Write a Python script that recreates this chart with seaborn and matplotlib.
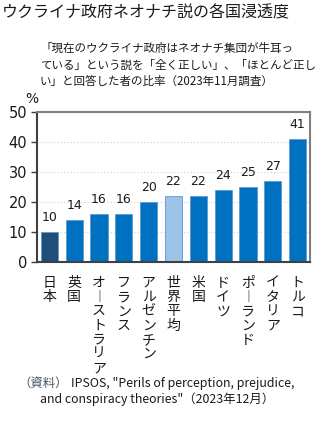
import matplotlib
matplotlib.use("Agg")
import matplotlib.pyplot as plt
import seaborn as sns
import pandas as pd

# Share of respondents who said the claim is "completely" or "mostly" true (Nov 2023)
countries = ["日本", "英国", "オーストラリア", "フランス", "アルゼンチン", "世界平均",
             "米国", "ドイツ", "ポーランド", "イタリア", "トルコ"]
values = [10, 14, 16, 16, 20, 22, 22, 24, 25, 27, 41]
yticks = [0, 10, 20, 30, 40, 50]

title = "ウクライナ政府ネオナチ説の各国浸透度"
subtitle = ("「現在のウクライナ政府はネオナチ集団が牛耳っ\n"
            "ている」という説を「全く正しい」、「ほとんど正し\n"
            "い」と回答した者の比率（2023年11月調査）")

BASE = "#0070C0"
HIGHLIGHT = {"日本": "#1F4E79", "世界平均": "#9DC3E6"}
colors = [HIGHLIGHT.get(c, BASE) for c in countries]

sns.set_theme(style="white")
plt.rcParams["font.family"] = ["Noto Sans CJK JP", "DejaVu Sans"]

df = pd.DataFrame({"country": countries, "value": values})

fig = plt.figure(figsize=(3.26, 4.44), dpi=100)
ax = fig.add_axes([37 / 326, 1 - 262 / 444, (310 - 37) / 326, (262 - 112) / 444])

sns.barplot(data=df, x="country", y="value", hue="country", palette=colors,
            legend=False, width=0.69, ax=ax, saturation=1,
            edgecolor="#5B9BD5", linewidth=0.6, zorder=2)

for cont in ax.containers:
    ax.bar_label(cont, fmt="%d", padding=6, fontsize=9, color="#1a1a1a",
                 family=["DejaVu Sans"])

ax.set_ylim(0, 50)
ax.set_yticks(yticks)
ax.set_yticklabels([str(t) for t in yticks], fontsize=10.5, family=["DejaVu Sans"],
                   color="#1a1a1a")
ax.yaxis.grid(True, color="#d0d0d0", linestyle=(0, (1, 2)), linewidth=0.8, zorder=0)
ax.set_axisbelow(True)
ax.tick_params(axis="y", which="major", left=True, length=4, width=1, color="#404040",
               pad=3)
ax.tick_params(axis="x", bottom=False, pad=4)


def vertical(label):
    # stack characters top to bottom; long vowel mark turned upright
    return "\n".join("︱" if ch == "ー" else ch for ch in label)


ax.set_xticks(range(len(countries)))
ax.set_xticklabels([vertical(c) for c in countries], fontsize=10, linespacing=1.02,
                   va="top", color="#1a1a1a")
ax.set_xlabel("")
ax.set_ylabel("")

for side in ["top", "right"]:
    ax.spines[side].set_visible(True)
    ax.spines[side].set_color("#808080")
    ax.spines[side].set_linewidth(1.5)
for side in ["left", "bottom"]:
    ax.spines[side].set_color("#404040")
    ax.spines[side].set_linewidth(1.5)

fig.text(2 / 326, 1 - 13 / 444, title, fontsize=11.5, va="center", ha="left",
         color="#1a1a1a")
fig.text(40 / 326, 1 - 65 / 444, subtitle, fontsize=8.3, va="center", ha="left",
         linespacing=1.35, color="#1a1a1a")
fig.text(25 / 326, 1 - 99 / 444, "%", fontsize=10, va="center", ha="left",
         color="#1a1a1a", family=["DejaVu Sans"])

src_y = 1 - 383 / 444
fig.text(18 / 326, src_y, "（資料）", fontsize=8.9, va="center", ha="left",
         color="#44546A")
fig.text(71 / 326, src_y, 'IPSOS, "Perils of perception, prejudice,', fontsize=8.9,
         va="center", ha="left", color="#1a1a1a")
fig.text(40 / 326, 1 - 399 / 444, 'and conspiracy theories"（2023年12月）', fontsize=8.9,
         va="center", ha="left", color="#1a1a1a")

fig.savefig("out.png", dpi=100)
